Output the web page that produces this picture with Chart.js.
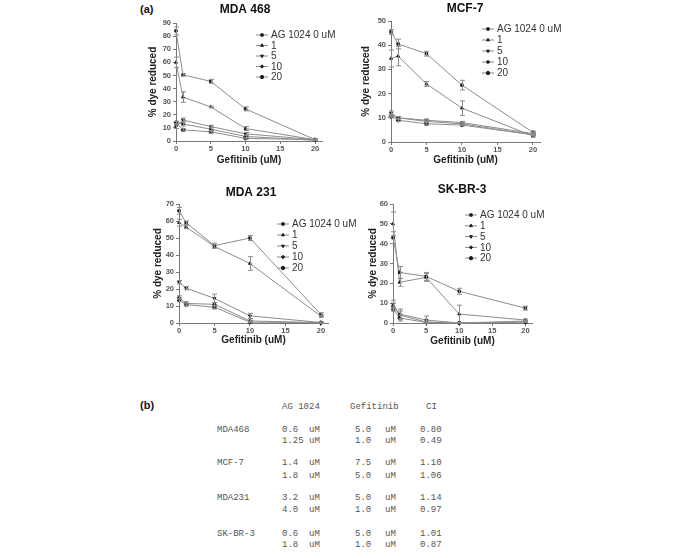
<!DOCTYPE html>
<html>
<head>
<meta charset="utf-8">
<script src="https://cdn.jsdelivr.net/npm/chart.js@4.4.0/dist/chart.umd.min.js"></script>
<style>
  body { margin: 0; background: #fff; width: 685px; height: 558px; position: relative; overflow: hidden; font-family: "Liberation Sans", Arial, sans-serif; }
  canvas { position: absolute; }
  .panel-label { position: absolute; font-weight: bold; font-size: 11px; color: #111; line-height: 1; }
  #tbl span { position: absolute; font-family: "Liberation Mono", monospace; font-size: 9px; color: #555; white-space: pre; line-height: 1; }
</style>
</head>
<body>
<div class="panel-label" style="left:140px;top:4px">(a)</div>
<div class="panel-label" style="left:140px;top:400px">(b)</div>

<canvas id="c468" width="220" height="175" style="left:130px;top:0px"></canvas>
<canvas id="cmcf" width="215" height="175" style="left:350px;top:0px"></canvas>
<canvas id="c231" width="230" height="180" style="left:130px;top:175px"></canvas>
<canvas id="cskbr" width="215" height="180" style="left:350px;top:175px"></canvas>

<div id="tbl"></div>

<script>
// ---- data ----
const doses = [0, 1, 5, 10, 20];
const xTicks = [0, 5, 10, 15, 20];
const seriesLabels = ["AG 1024 0 uM", "1", "5", "10", "20"];
const panelTitles = ["MDA 468", "MCF-7", "MDA 231", "SK-BR-3"];
const yMaxes = [90, 50, 70, 60];

// % dye reduced, one row per AG 1024 dose
const mda468Values = [
  [84, 50.5, 45.5, 24.5, 1],
  [60, 33.5, 26, 9.5, 1],
  [11, 16, 11, 5.5, 1],
  [14, 13, 9, 3.5, 0.5],
  [14, 8.5, 7, 2, 1]
];
const mda468Errors = [
  [3, 1, 1.5, 1.5, 0.5],
  [4, 4, 0.5, 1.5, 0.5],
  [1.5, 1.5, 1, 1, 0.3],
  [1, 1.5, 1.5, 1, 0.3],
  [1, 1, 1, 0.5, 0.3]
];
const mcf7Values = [
  [45.5, 40.5, 36.5, 23.5, 4],
  [34.5, 35.5, 24, 14, 2.5],
  [12, 10, 9, 8, 3.5],
  [11, 10, 8.5, 7.5, 3],
  [10.5, 9, 7.5, 7, 3]
];
const mcf7Errors = [
  [1, 2, 1, 2, 0.5],
  [3.5, 4, 1, 3, 0.5],
  [0.8, 0.5, 0.5, 0.5, 0.4],
  [0.5, 0.5, 0.5, 0.5, 0.3],
  [0.5, 0.5, 0.5, 0.3, 0.3]
];
const mda231Values = [
  [66, 59, 45.5, 50, 5],
  [59, 56.5, 45, 35, 4],
  [24, 20.5, 14.5, 4.2, 0.3],
  [15, 11.5, 11, 1.2, 0.2],
  [13.5, 10.8, 9.3, 0.5, 0.2]
];
const mda231Errors = [
  [2, 1, 1.5, 1.5, 1],
  [2, 1, 1, 4, 0.5],
  [1, 1, 2.5, 1.5, 0.3],
  [1, 1, 1, 0.5, 0.2],
  [1, 0.8, 1, 0.3, 0.2]
];
const skbr3Values = [
  [43, 25.5, 23.5, 16, 7.5],
  [50, 20.5, 23, 4.5, 1.5],
  [9.5, 4.5, 1.5, 0, 1],
  [8.5, 4, 0.5, 0, 0.5],
  [7, 2.5, 0.3, 0, 0.5]
];
const skbr3Errors = [
  [3, 3, 2, 1.5, 1],
  [6, 2, 2, 4.5, 0.5],
  [2, 2.5, 2, 0.3, 0.3],
  [1.5, 2, 1, 0.2, 0.2],
  [1, 1.5, 0.5, 0.2, 0.2]
];

// table (b)
const tableCells = ["MDA468", "", "MCF-7", "", "MDA231", "", "SK-BR-3", ""];
const agDoses = ["0.6", "1.25", "1.4", "1.8", "3.2", "4.0", "0.6", "1.8"];
const gefDoses = ["5.0", "1.0", "7.5", "5.0", "5.0", "1.0", "5.0", "1.0"];
const ciValues = ["0.80", "0.49", "1.10", "1.06", "1.14", "0.97", "1.01", "0.87"];

// ---- styles ----
const pointStyles = ["rect", "triangle", "triangle", "rectRot", "circle"];
const pointRotations = [0, 0, 180, 0, 0];
const lineColor = "#8c8c8c";
const markColor = "#1e1e1e";

// error bars
const errorBarPlugin = {
  id: "errbars",
  afterDatasetsDraw(chart) {
    const ctx = chart.ctx;
    const xs = chart.scales.x, ys = chart.scales.y;
    ctx.save();
    ctx.strokeStyle = "#8a8a8a";
    ctx.lineWidth = 1;
    chart.data.datasets.forEach(ds => {
      if (!ds.errors) return;
      ds.data.forEach((pt, i) => {
        const e = ds.errors[i];
        if (!e) return;
        const x = Math.round(xs.getPixelForValue(pt.x)) + 0.5;
        const y1 = ys.getPixelForValue(Math.max(0, pt.y - e));
        const y2 = ys.getPixelForValue(pt.y + e);
        ctx.beginPath();
        ctx.moveTo(x, y1); ctx.lineTo(x, y2);
        ctx.moveTo(x - 2.5, y1); ctx.lineTo(x + 2.5, y1);
        ctx.moveTo(x - 2.5, y2); ctx.lineTo(x + 2.5, y2);
        ctx.stroke();
      });
    });
    ctx.restore();
  }
};

// title + inline legend
const decorPlugin = {
  id: "decor",
  afterDraw(chart, args, opts) {
    const ctx = chart.ctx;
    ctx.save();
    ctx.fillStyle = "#111";
    ctx.font = "bold 12px 'Liberation Sans', Arial, sans-serif";
    ctx.textAlign = "center";
    ctx.textBaseline = "middle";
    ctx.fillText(opts.title, opts.titleX, opts.titleY);

    ctx.font = "10px 'Liberation Sans', Arial, sans-serif";
    ctx.textAlign = "left";
    chart.data.datasets.forEach((ds, i) => {
      const y = opts.legY + i * opts.legStep;
      ctx.strokeStyle = lineColor;
      ctx.lineWidth = 1;
      ctx.beginPath();
      ctx.moveTo(opts.legX, y); ctx.lineTo(opts.legX + 12, y);
      ctx.stroke();
      ctx.fillStyle = markColor;
      ctx.strokeStyle = markColor;
      Chart.helpers.drawPoint(ctx, {
        pointStyle: ds.pointStyle, radius: 1.7, rotation: ds.pointRotation, borderWidth: 1
      }, opts.legX + 6, y);
      ctx.fillStyle = "#333";
      ctx.fillText(ds.label, opts.legX + 15, y + 0.5);
    });
    ctx.restore();
  }
};

function makePanel(id, idx, values, errors, box) {
  const datasets = values.map((row, s) => ({
    label: seriesLabels[s],
    data: row.map((v, i) => ({ x: doses[i], y: v })),
    errors: errors[s],
    borderColor: lineColor,
    borderWidth: 1,
    pointStyle: pointStyles[s],
    pointRotation: pointRotations[s],
    pointRadius: 1.7,
    pointBackgroundColor: markColor,
    pointBorderColor: markColor,
    pointBorderWidth: 1,
    fill: false,
    tension: 0,
    clip: 8
  }));

  const tickFont = { family: "'Liberation Sans', Arial, sans-serif", size: 7.5, weight: "bold" };
  const titleFont = { family: "'Liberation Sans', Arial, sans-serif", size: 10, weight: "bold" };

  new Chart(document.getElementById(id).getContext("2d"), {
    type: "line",
    data: { datasets },
    plugins: [errorBarPlugin, decorPlugin],
    options: {
      responsive: false,
      animation: false,
      devicePixelRatio: 1,
      layout: { padding: { left: 0, top: box.padTop, right: box.padRight, bottom: 0 } },
      plugins: {
        legend: { display: false },
        tooltip: { enabled: false },
        decor: box.decor
      },
      scales: {
        x: {
          type: "linear",
          min: 0,
          max: 21,
          afterBuildTicks: s => { s.ticks = xTicks.map(v => ({ value: v })); },
          afterFit: s => { s.height = box.xH; },
          grid: { display: true, drawOnChartArea: false, drawTicks: true, tickLength: 3, color: "#777" },
          border: { display: true, color: "#777", width: 1 },
          ticks: { font: tickFont, color: "#555", padding: 0, maxRotation: 0 },
          title: { display: true, text: "Gefitinib (uM)", font: titleFont, color: "#222", padding: { top: 0, bottom: box.xTitlePad } }
        },
        y: {
          min: 0,
          max: yMaxes[idx],
          afterFit: s => { s.width = box.yW; },
          grid: { display: true, drawOnChartArea: false, drawTicks: true, tickLength: 3, color: "#777" },
          border: { display: true, color: "#777", width: 1 },
          ticks: { stepSize: 10, font: tickFont, color: "#555", padding: 2 },
          title: { display: true, text: "% dye reduced", font: titleFont, color: "#222", padding: { top: box.yTitlePad, bottom: 0 } }
        }
      }
    }
  });
}

makePanel("c468", 0, mda468Values, mda468Errors, {
  padTop: 23, padRight: 28, yW: 46, xH: 34, xTitlePad: 9, yTitlePad: 17.5,
  decor: { title: panelTitles[0], titleX: 115, titleY: 10, legX: 126, legY: 35, legStep: 10.5 }
});
makePanel("cmcf", 1, mcf7Values, mcf7Errors, {
  padTop: 21, padRight: 25, yW: 41, xH: 33, xTitlePad: 9, yTitlePad: 10.5,
  decor: { title: panelTitles[1], titleX: 115, titleY: 9, legX: 132, legY: 29, legStep: 11 }
});
makePanel("c231", 2, mda231Values, mda231Errors, {
  padTop: 29, padRight: 32, yW: 49, xH: 32, xTitlePad: 9, yTitlePad: 22.5,
  decor: { title: panelTitles[2], titleX: 121, titleY: 18, legX: 147, legY: 49, legStep: 11 }
});
makePanel("cskbr", 3, skbr3Values, skbr3Errors, {
  padTop: 29, padRight: 33, yW: 43, xH: 32, xTitlePad: 8, yTitlePad: 17.5,
  decor: { title: panelTitles[3], titleX: 112, titleY: 15, legX: 115, legY: 40, legStep: 10.8 }
});

// table (b)
const tbl = document.getElementById("tbl");
function put(text, x, yc) {
  const s = document.createElement("span");
  s.textContent = text;
  s.style.left = x + "px";
  s.style.top = (yc - 4) + "px";
  tbl.appendChild(s);
}
put("AG 1024", 282, 407);
put("Gefitinib", 350, 407);
put("CI", 426, 407);
const rowY = [430, 441, 463, 476, 498, 510, 534, 545];
rowY.forEach((y, i) => {
  if (tableCells[i]) put(tableCells[i], 217, y);
  put(agDoses[i], 282, y);
  put("uM", 309, y);
  put(gefDoses[i], 355, y);
  put("uM", 385, y);
  put(ciValues[i], 420, y);
});
</script>
</body>
</html>
